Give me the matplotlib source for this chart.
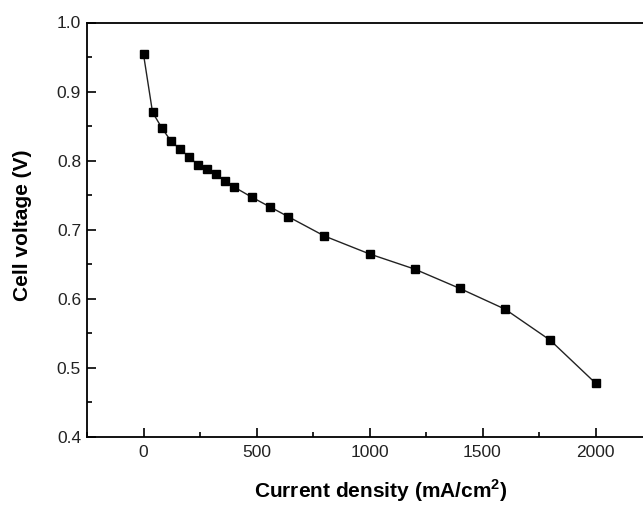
import matplotlib.pyplot as plt
from matplotlib.ticker import MultipleLocator

# Polarization curve data
current_density = [0, 40, 80, 120, 160, 200, 240, 280, 320, 360, 400,
                   480, 560, 640, 800, 1000, 1200, 1400, 1600, 1800, 2000]
cell_voltage = [0.954, 0.870, 0.848, 0.829, 0.817, 0.806, 0.794, 0.788, 0.780, 0.771, 0.762,
                0.747, 0.733, 0.719, 0.691, 0.665, 0.643, 0.615, 0.585, 0.540, 0.478]

plt.rcParams['font.family'] = ['Liberation Sans', 'DejaVu Sans']
plt.rcParams['mathtext.fontset'] = 'custom'
plt.rcParams['mathtext.rm'] = 'Liberation Sans'
plt.rcParams['mathtext.bf'] = 'Liberation Sans:bold'

fig = plt.figure(figsize=(6.43, 5.05), dpi=100)
# axes run past the right edge of the figure, as in the cropped original
ax = fig.add_axes([87 / 643, (505 - 437) / 505, 565 / 643, 414.5 / 505])

ax.plot(current_density, cell_voltage, color="#222222", linewidth=1.0,
        marker="s", markersize=6.3, markerfacecolor="black", markeredgecolor="black")

ax.set_xlim(-250, 2250)
ax.set_ylim(0.4, 1.0)
ax.xaxis.set_major_locator(MultipleLocator(500))
ax.xaxis.set_minor_locator(MultipleLocator(250))
ax.yaxis.set_major_locator(MultipleLocator(0.1))
ax.yaxis.set_minor_locator(MultipleLocator(0.05))
ax.tick_params(which="both", direction="in", labelsize=12.5, width=1.2, labelcolor="#222222")
ax.tick_params(which="major", length=6.5)
ax.tick_params(which="minor", length=3.6)
ax.tick_params(axis="x", which="major", pad=6)
ax.tick_params(axis="y", which="major", pad=4.3)
for s in ax.spines.values():
    s.set_linewidth(1.3)

ax.set_xlabel(r"Current density (mA/cm$^\mathbf{2}$)", fontsize=15, fontweight="bold")
ax.set_ylabel("Cell voltage (V)", fontsize=15, fontweight="bold")
ax.xaxis.set_label_coords(0.52, -0.0985)
ax.yaxis.set_label_coords(-0.0965, 0.51)

plt.savefig("out.png", dpi=100)
